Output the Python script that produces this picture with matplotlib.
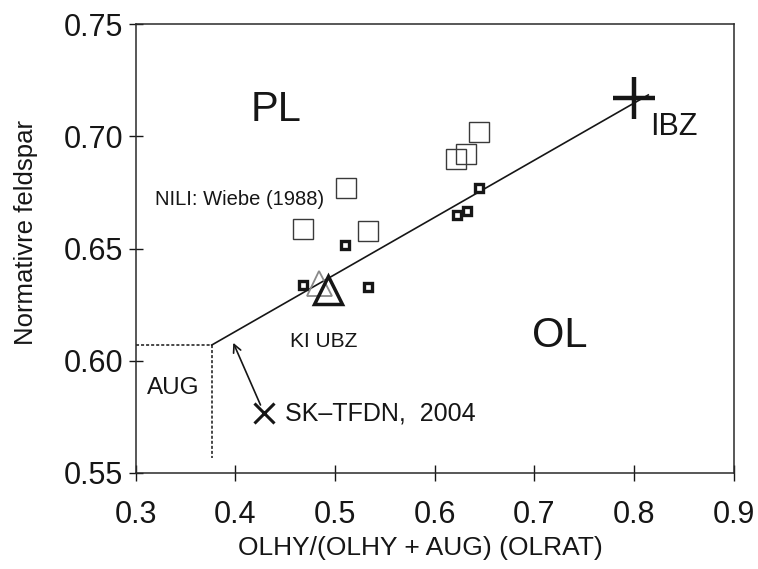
import matplotlib
matplotlib.use("Agg")
import matplotlib.pyplot as plt

plt.rcParams["font.family"] = ["Liberation Sans", "DejaVu Sans"]

INK = "#161616"

# Wiebe (1988) NILI data: open squares (large) and bold squares (small)
nili_open_x = [0.468, 0.511, 0.533, 0.622, 0.632, 0.645]
nili_open_y = [0.6587, 0.6768, 0.6578, 0.6899, 0.6920, 0.7020]
nili_bold_x = [0.4684, 0.510, 0.533, 0.6223, 0.6323, 0.645]
nili_bold_y = [0.6336, 0.6516, 0.6327, 0.6649, 0.6668, 0.6768]

# KI UBZ triangles (grey and black)
ki_grey = (0.4844, 0.6345)
ki_black = (0.4934, 0.6315)

# IBZ end member and SK-TFDN 2004 point
ibz = (0.800, 0.717)
sk_tfdn = (0.4289, 0.5766)

# mixing line and AUG guide lines
mix_x = [0.3765, 0.8145]
mix_y = [0.607, 0.7184]
aug_h_x = [0.30, 0.3765]
aug_h_y = [0.607, 0.607]
aug_v_x = [0.3765, 0.3765]
aug_v_y = [0.607, 0.5565]

x_ticks = [0.3, 0.4, 0.5, 0.6, 0.7, 0.8, 0.9]
y_ticks = [0.55, 0.60, 0.65, 0.70, 0.75]

fig = plt.figure(figsize=(7.58, 5.69), dpi=100)
ax = fig.add_axes([135.5 / 758, 1 - 473 / 569, 598 / 758, 449 / 569])

ax.plot(mix_x, mix_y, color=INK, linewidth=1.2)
ax.plot(aug_h_x, aug_h_y, color=INK, linewidth=1.1, linestyle=(0, (2, 1.3)))
ax.plot(aug_v_x, aug_v_y, color=INK, linewidth=1.1, linestyle=(0, (2, 1.3)))

ax.plot(nili_open_x, nili_open_y, linestyle="none", marker="s", markersize=14,
        markerfacecolor="none", markeredgecolor="#3a3a3a", markeredgewidth=1.0)
ax.plot(nili_bold_x, nili_bold_y, linestyle="none", marker="s", markersize=5.8,
        markerfacecolor="white", markeredgecolor=INK, markeredgewidth=2.4)

ax.plot(*ki_grey, marker="^", markersize=18, markerfacecolor="none",
        markeredgecolor="#8a8a8a", markeredgewidth=1.3)
ax.plot(*ki_black, marker="^", markersize=20, markerfacecolor="none",
        markeredgecolor=INK, markeredgewidth=2.5)

ax.plot(*ibz, marker="+", markersize=30, markeredgecolor=INK, markeredgewidth=3.2)
ax.plot(*sk_tfdn, marker="x", markersize=14, markeredgecolor=INK, markeredgewidth=2.2)

ax.annotate("", xy=(0.3981, 0.6080), xytext=(0.4254, 0.5803),
            arrowprops=dict(arrowstyle="->", color=INK, lw=1.2,
                            mutation_scale=14, shrinkA=0, shrinkB=0))

ax.text(0.4412, 0.7117, "PL", fontsize=30, color=INK, ha="center", va="center")
ax.text(0.7258, 0.611, "OL", fontsize=30, color=INK, ha="center", va="center")
ax.text(0.8162, 0.7039, "IBZ", fontsize=22, color=INK, ha="left", va="center")
ax.text(0.3196, 0.6694, "NILI: Wiebe (1988)", fontsize=14.5, color=INK,
        ha="left", va="baseline")
ax.text(0.455, 0.6085, "KI UBZ", fontsize=15, color=INK, ha="left", va="center")
ax.text(0.3112, 0.5879, "AUG", fontsize=17.5, color=INK, ha="left", va="center")
ax.text(0.450, 0.5767, "SK\u2013TFDN,  2004", fontsize=18, color=INK,
        ha="left", va="center")

ax.set_xlim(0.3, 0.9)
ax.set_ylim(0.55, 0.75)
ax.set_xticks(x_ticks)
ax.set_xticklabels([f"{v:.1f}" for v in x_ticks])
ax.set_yticks(y_ticks)
ax.set_yticklabels([f"{v:.2f}" for v in y_ticks])
ax.tick_params(axis="x", direction="inout", length=11, width=1.0, pad=14,
               labelsize=22, colors=INK)
ax.tick_params(axis="y", direction="inout", length=10, width=1.0, pad=4,
               labelsize=22, colors=INK)
for s in ax.spines.values():
    s.set_linewidth(1.1)
    s.set_color("#2a2a2a")

ax.set_xlabel("OLHY/(OLHY + AUG) (OLRAT)", fontsize=19, color=INK)
ax.set_ylabel("Normativre feldspar", fontsize=18.5, color=INK)
ax.xaxis.set_label_coords(0.476, -0.167)
ax.yaxis.set_label_coords(-0.183, 0.536)
ax.xaxis.label.set_va("center")
ax.yaxis.label.set_va("center")

fig.savefig("out.png", dpi=100)
